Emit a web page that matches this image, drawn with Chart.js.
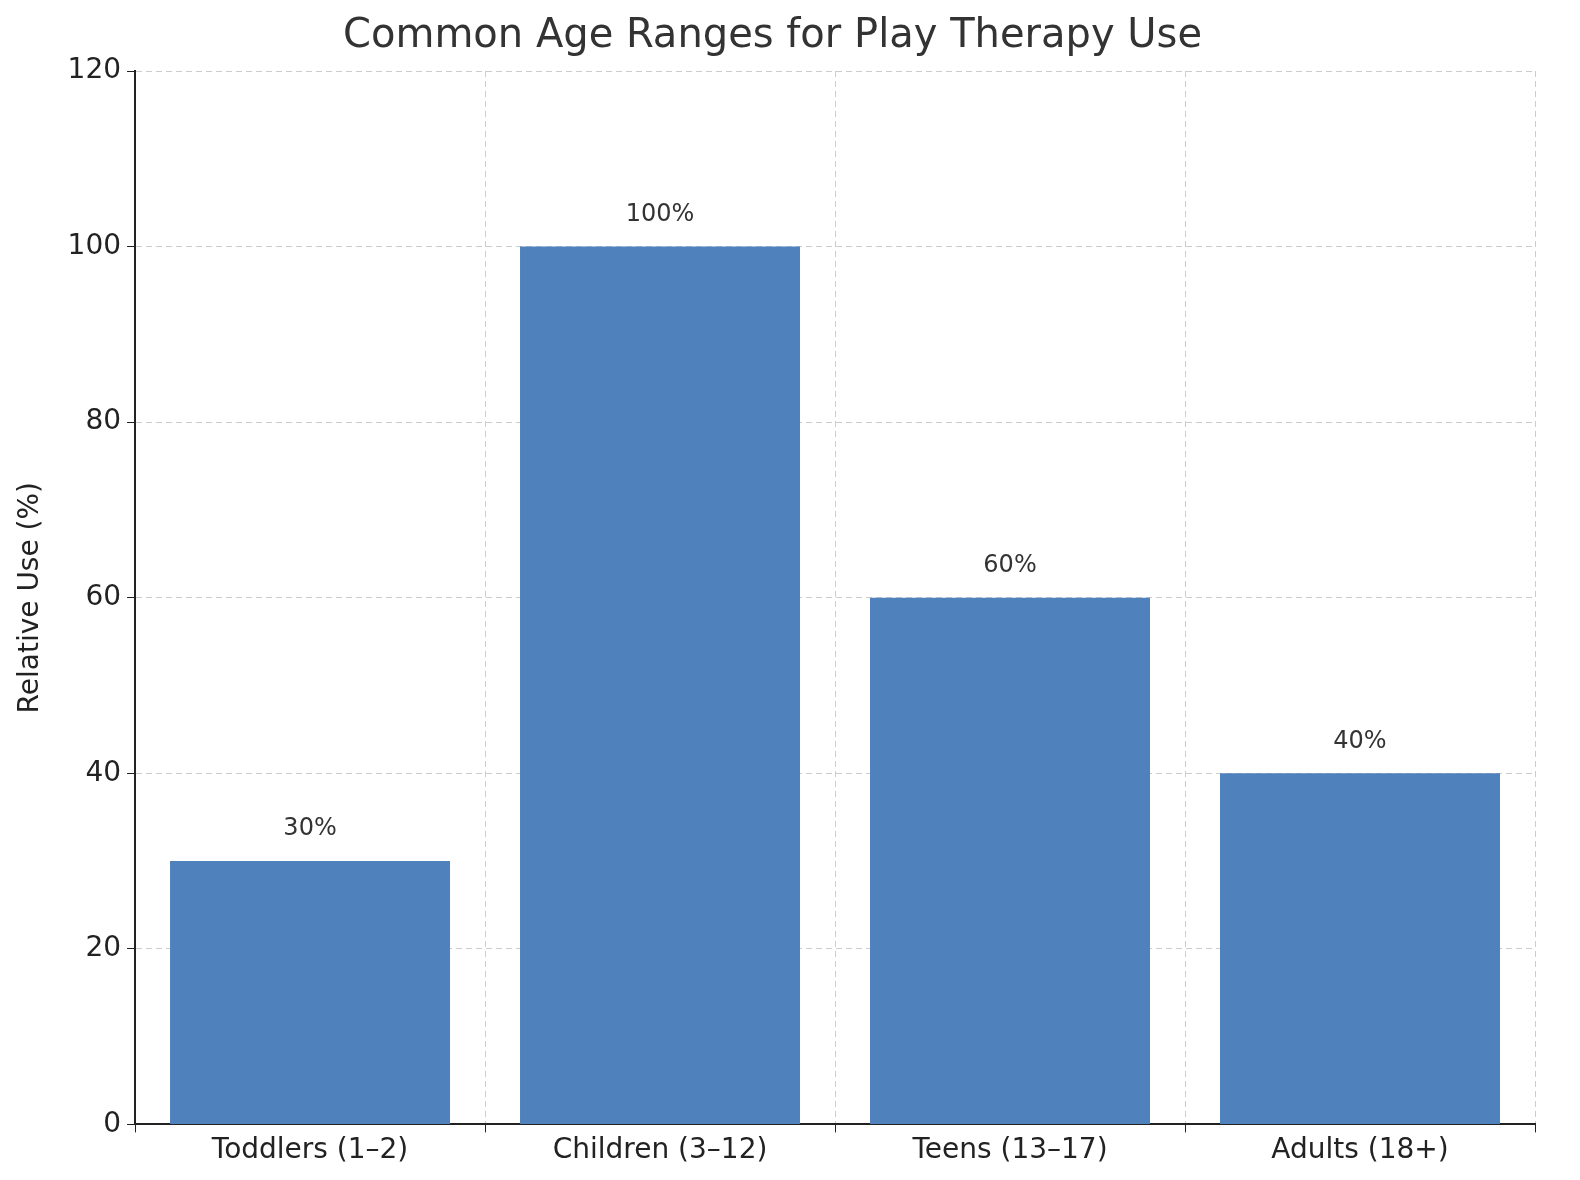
<!DOCTYPE html>
<html><head><meta charset="utf-8">
<script src="https://cdn.jsdelivr.net/npm/chart.js@4"></script>
<style>html,body{margin:0;padding:0;background:#fff}#w{width:1580px;height:1180px}</style>
</head><body><div id="w"><canvas id="c"></canvas></div>
<script>
const categories = ["Toddlers (1–2)", "Children (3–12)", "Teens (13–17)", "Adults (18+)"];
const values = [30, 100, 60, 40];
const yTicks = [0, 20, 40, 60, 80, 100, 120];

const labelPlugin = {
  id: 'vals',
  afterDatasetsDraw(chart) {
    const ctx = chart.ctx;
    const meta = chart.getDatasetMeta(0);
    ctx.save();
    ctx.font = '24px "DejaVu Sans"';
    ctx.fillStyle = '#333';
    ctx.textAlign = 'center';
    ctx.textBaseline = 'bottom';
    meta.data.forEach((b, i) => ctx.fillText(values[i] + '%', b.x, b.y - 20));
    ctx.restore();
  }
};

new Chart(document.getElementById('c'), {
  type: 'bar',
  data: { labels: categories, datasets: [{ data: values, backgroundColor: '#4f81bd', barPercentage: 0.8, categoryPercentage: 1.0 }] },
  options: {
    responsive: true, maintainAspectRatio: false, animation: false,
    layout: { padding: { left: 10, right: 45, top: 5, bottom: 10 } },
    plugins: {
      legend: { display: false },
      tooltip: { enabled: false },
      title: { display: true, text: 'Common Age Ranges for Play Therapy Use', color: '#333',
        font: { family: 'DejaVu Sans', size: 40, weight: 'normal' }, padding: { top: 8, bottom: 10 } }
    },
    scales: {
      x: {
        z: 1,
        grid: { color: '#ccc', tickColor: '#222', tickLength: 8, drawOnChartArea: true },
        border: { color: '#222', width: 2, dash: [6, 4] },
        ticks: { color: '#222', font: { family: 'DejaVu Sans', size: 28 }, padding: 2 }
      },
      y: {
        z: 1,
        min: 0, max: 120,
        afterBuildTicks(s) { s.ticks = yTicks.map(v => ({ value: v })); },
        grid: { color: '#ccc', tickColor: '#222', tickLength: 8 },
        border: { color: '#222', width: 2, dash: [6, 4] },
        ticks: { color: '#222', font: { family: 'DejaVu Sans', size: 28 }, padding: 6 },
        title: { display: true, text: 'Relative Use (%)', color: '#222', font: { family: 'DejaVu Sans', size: 28 }, padding: { bottom: 14 } }
      }
    }
  },
  plugins: [labelPlugin]
});
</script></body></html>
